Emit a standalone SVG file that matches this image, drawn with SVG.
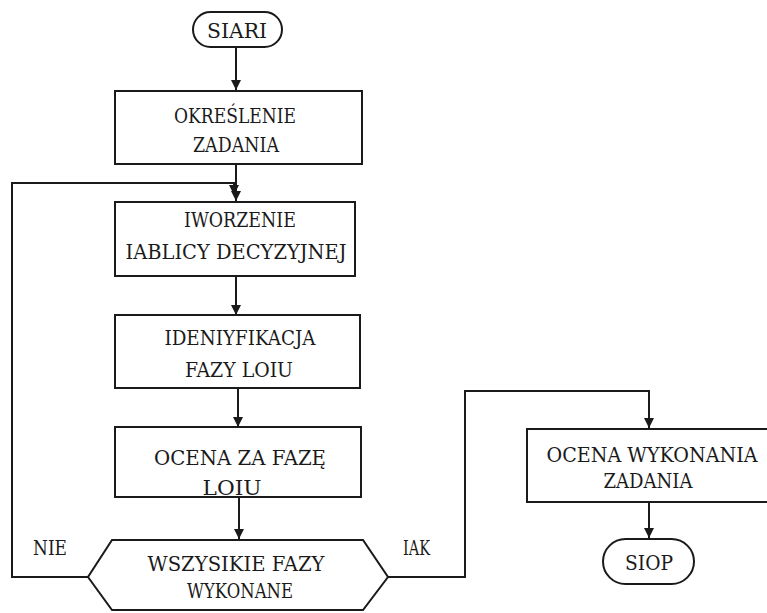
<svg xmlns="http://www.w3.org/2000/svg" width="767" height="613" viewBox="0 0 767 613">
<style>
.n{fill:none;stroke:#1a1a1a;stroke-width:2}
.c{fill:none;stroke:#1a1a1a;stroke-width:2}
.t{font-family:"DejaVu Serif",serif;font-size:20px;fill:#1a1a1a;text-anchor:middle}
.l{font-family:"DejaVu Serif",serif;font-size:20px;fill:#1a1a1a}
</style>
<defs>
<marker id="ah" viewBox="0 0 10 10" refX="10" refY="5" markerWidth="5" markerHeight="5" markerUnits="strokeWidth" orient="auto">
<path d="M0,0 L10,5 L0,10 Z" fill="#1a1a1a"/>
</marker>
</defs>
<rect width="767" height="613" fill="#ffffff"/>
<g id="connectors">
<path class="c" d="M236,47 V90" marker-end="url(#ah)"/>
<path class="c" d="M236,164 V201" marker-end="url(#ah)"/>
<path class="c" d="M88,577 H12 V183 H234 V195" marker-end="url(#ah)"/>
<path class="c" d="M236,276 V315" marker-end="url(#ah)"/>
<path class="c" d="M238,388 V427" marker-end="url(#ah)"/>
<path class="c" d="M239,497 V539" marker-end="url(#ah)"/>
<path class="c" d="M388,577 H465 V391 H649 V428" marker-end="url(#ah)"/>
<path class="c" d="M649,502 V538" marker-end="url(#ah)"/>
</g>
<g id="start">
<rect class="n" x="193" y="12" width="89" height="35" rx="17.5"/>
<text class="t" x="237" y="38" textLength="60" lengthAdjust="spacingAndGlyphs">SIARI</text>
</g>
<g id="okreslenie">
<rect class="n" x="115" y="91" width="247" height="73"/>
<text class="t" x="235" y="123" textLength="122" lengthAdjust="spacingAndGlyphs">OKREŚLENIE</text>
<text class="t" x="236" y="152" textLength="86" lengthAdjust="spacingAndGlyphs">ZADANIA</text>
</g>
<g id="tworzenie">
<rect class="n" x="115" y="202" width="240" height="74"/>
<text class="t" x="240" y="227" textLength="112" lengthAdjust="spacingAndGlyphs">IWORZENIE</text>
<text class="t" x="236" y="259" textLength="221" lengthAdjust="spacingAndGlyphs">IABLICY  DECYZYJNEJ</text>
</g>
<g id="identyfikacja">
<rect class="n" x="115" y="315" width="245" height="73"/>
<text class="t" x="240" y="345" textLength="151" lengthAdjust="spacingAndGlyphs">IDENIYFIKACJA</text>
<text class="t" x="239" y="377" textLength="108" lengthAdjust="spacingAndGlyphs">FAZY  LOIU</text>
</g>
<g id="ocena-faza">
<rect class="n" x="115" y="427" width="246" height="70"/>
<text class="t" x="240" y="465" textLength="172" lengthAdjust="spacingAndGlyphs">OCENA  ZA  FAZĘ</text>
<text class="t" x="232" y="495" textLength="59" lengthAdjust="spacingAndGlyphs">LOIU</text>
</g>
<g id="decyzja">
<polygon class="n" points="112,540 363,540 388,577 363,610 112,610 88,577"/>
<text class="t" x="236" y="571" textLength="177" lengthAdjust="spacingAndGlyphs">WSZYSIKIE  FAZY</text>
<text class="t" x="240" y="598" textLength="106" lengthAdjust="spacingAndGlyphs">WYKONANE</text>
</g>
<g id="labels">
<text class="l" x="33" y="555" textLength="34" lengthAdjust="spacingAndGlyphs">NIE</text>
<text class="l" x="403" y="555" textLength="27" lengthAdjust="spacingAndGlyphs">IAK</text>
</g>
<g id="ocena-wykonania">
<rect class="n" x="527" y="429" width="245" height="73"/>
<text class="t" x="652" y="462" textLength="211" lengthAdjust="spacingAndGlyphs">OCENA  WYKONANIA</text>
<text class="t" x="648" y="488" textLength="89" lengthAdjust="spacingAndGlyphs">ZADANIA</text>
</g>
<g id="stop">
<rect class="n" x="603" y="539" width="91" height="45" rx="22.5"/>
<text class="t" x="649" y="570" textLength="48" lengthAdjust="spacingAndGlyphs">SIOP</text>
</g>
</svg>
